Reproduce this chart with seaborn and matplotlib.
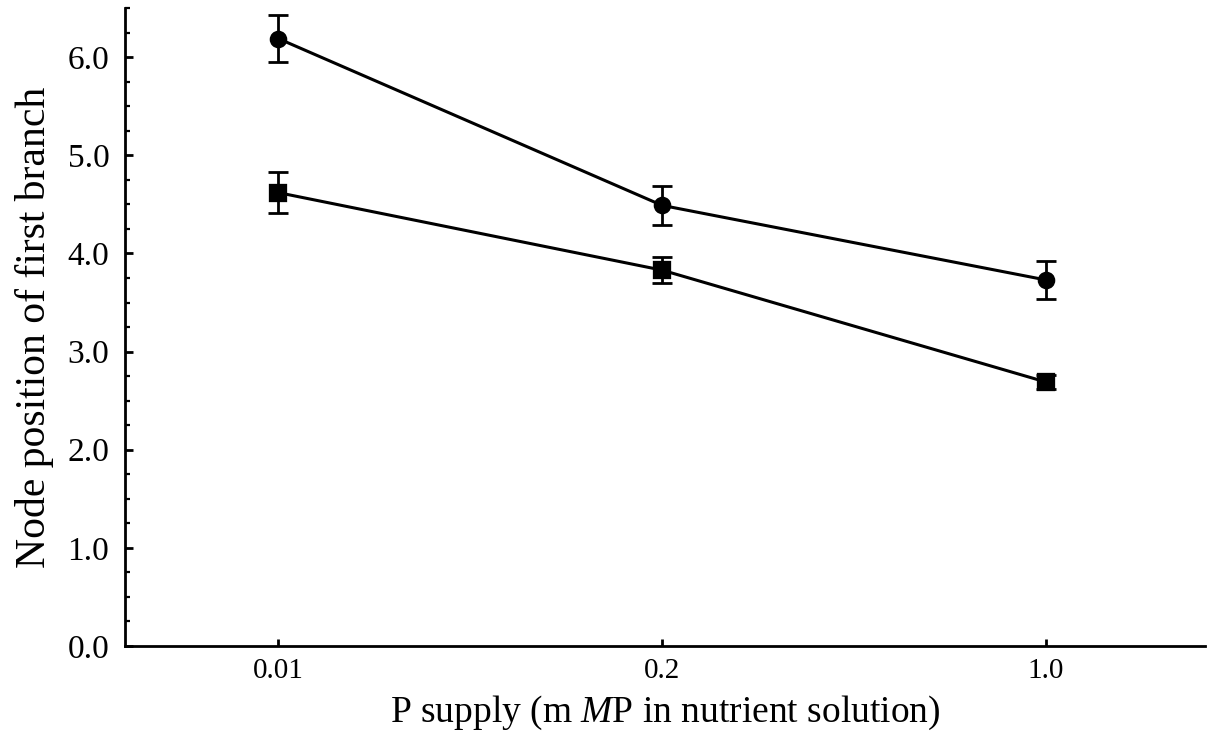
import numpy as np
import pandas as pd
import seaborn as sns
import matplotlib.pyplot as plt
from matplotlib.ticker import MultipleLocator

# P supply levels (mM P)
p_supply = ["0.01", "0.2", "1.0"]

# node position of first branch, circle series
circle_mean = [6.19, 4.49, 3.73]
circle_err = [0.24, 0.20, 0.19]

# node position of first branch, square series
square_mean = [4.62, 3.83, 2.69]
square_err = [0.21, 0.13, 0.07]

sns.set_style("ticks")
plt.rcParams["font.family"] = ["Liberation Serif", "DejaVu Serif"]
plt.rcParams["mathtext.fontset"] = "custom"
plt.rcParams["mathtext.rm"] = "Liberation Serif"
plt.rcParams["mathtext.it"] = "Liberation Serif:italic"
plt.rcParams["text.color"] = "black"
plt.rcParams["axes.labelcolor"] = "black"
plt.rcParams["xtick.color"] = "black"
plt.rcParams["ytick.color"] = "black"
plt.rcParams["axes.edgecolor"] = "black"

df = pd.DataFrame({
    "supply": p_supply * 2,
    "node": circle_mean + square_mean,
    "err": circle_err + square_err,
    "series": ["circle"] * 3 + ["square"] * 3,
})

fig = plt.figure(figsize=(12.1, 7.37), dpi=100)
ax = fig.add_axes([0.103, 0.1235, 0.893, 0.8655])

sns.pointplot(data=df, x="supply", y="node", hue="series", order=p_supply,
              markers=["o", "s"], linestyles=["-", "-"],
              palette=["black", "black"], errorbar=None,
              markersize=11, linewidth=2.2, legend=False, ax=ax)

# error bars from the stated errors
for name, grp in df.groupby("series"):
    xpos = [p_supply.index(s) for s in grp["supply"]]
    ax.errorbar(xpos, grp["node"], yerr=grp["err"], fmt="none",
                ecolor="black", elinewidth=2.0, capsize=7, capthick=2.0, zorder=1)

ax.set_xlim(-0.4, 2.415)
ax.yaxis.set_major_locator(MultipleLocator(1.0))
ax.yaxis.set_minor_locator(MultipleLocator(0.25))
ax.set_ylim(0, 6.5)
ax.yaxis.set_major_formatter(lambda v, pos: f"{v:.1f}")

ax.tick_params(axis="both", which="major", direction="in", length=6, width=2.0)
ax.tick_params(axis="y", which="major", pad=11)
ax.tick_params(axis="x", which="major", pad=9, length=5)
ax.tick_params(axis="y", which="minor", direction="in", length=3.5, width=1.6)
for lab in ax.get_xticklabels():
    lab.set_fontsize(21)
for lab in ax.get_yticklabels():
    lab.set_fontsize(24)

sns.despine(ax=ax)
for side in ["left", "bottom"]:
    ax.spines[side].set_linewidth(2.0)

ax.set_xlabel("P supply (m $\\mathit{M}$P in nutrient solution)", fontsize=27, labelpad=7)
ax.set_ylabel("Node position of first branch", fontsize=30, labelpad=10)

fig.savefig("out.png", dpi=100)
